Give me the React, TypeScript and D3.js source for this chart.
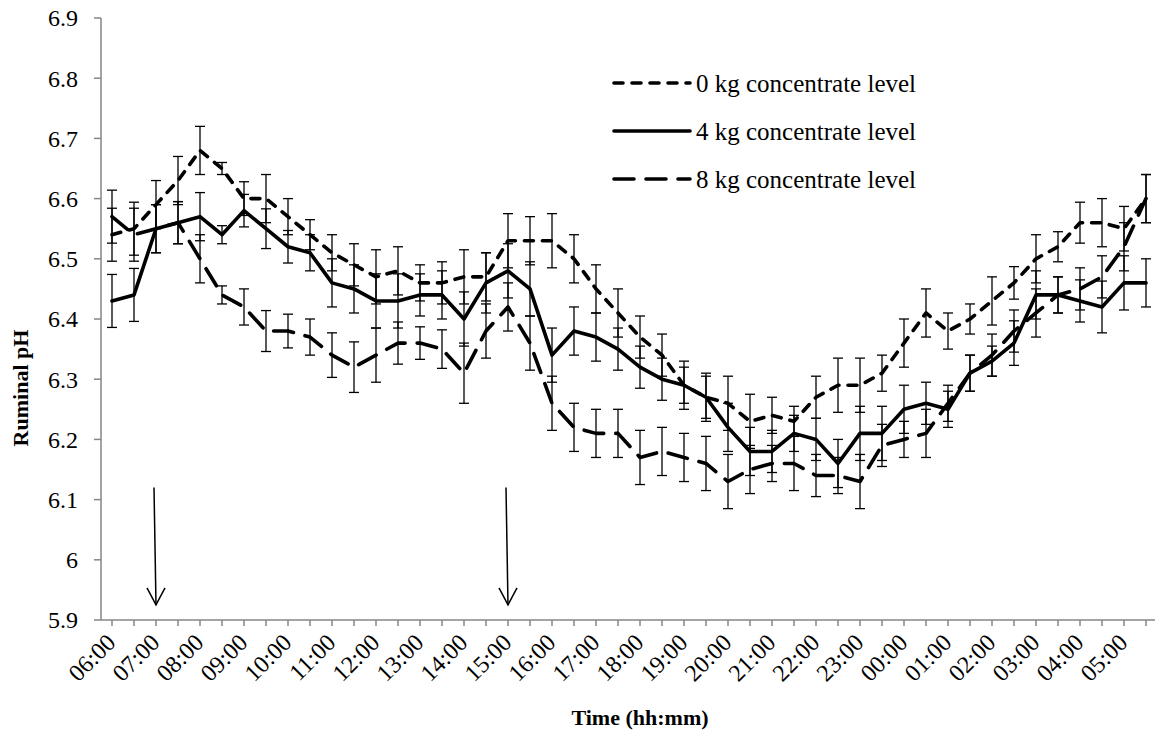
import React from "react";
import { scalePoint, scaleLinear, line, range } from "d3";

const width = 1155;
const height = 738;

// half-hourly sampling, labelled every hour
const times = [
  "06:00", "06:30", "07:00", "07:30", "08:00", "08:30", "09:00", "09:30",
  "10:00", "10:30", "11:00", "11:30", "12:00", "12:30", "13:00", "13:30",
  "14:00", "14:30", "15:00", "15:30", "16:00", "16:30", "17:00", "17:30",
  "18:00", "18:30", "19:00", "19:30", "20:00", "20:30", "21:00", "21:30",
  "22:00", "22:30", "23:00", "23:30", "00:00", "00:30", "01:00", "01:30",
  "02:00", "02:30", "03:00", "03:30", "04:00", "04:30", "05:00", "05:30",
];

const conc0 = [
  6.54, 6.55, 6.59, 6.63, 6.68, 6.65, 6.60, 6.60, 6.57, 6.54, 6.51, 6.49,
  6.47, 6.48, 6.46, 6.46, 6.47, 6.47, 6.53, 6.53, 6.53, 6.50, 6.45, 6.41,
  6.37, 6.34, 6.29, 6.27, 6.26, 6.23, 6.24, 6.23, 6.27, 6.29, 6.29, 6.31,
  6.36, 6.41, 6.38, 6.40, 6.43, 6.46, 6.50, 6.52, 6.56, 6.56, 6.55, 6.60,
];
const se0 = [
  0.044, 0.044, 0.04, 0.04, 0.04, 0.01, 0.028, 0.04, 0.03, 0.025, 0.03, 0.035,
  0.045, 0.04, 0.03, 0.035, 0.045, 0.04, 0.045, 0.04, 0.045, 0.04, 0.04, 0.04,
  0.035, 0.035, 0.04, 0.04, 0.045, 0.045, 0.03, 0.025, 0.035, 0.045, 0.045, 0.03,
  0.04, 0.04, 0.03, 0.025, 0.04, 0.027, 0.04, 0.025, 0.034, 0.04, 0.037, 0.04,
];

const conc4 = [
  6.43, 6.44, 6.55, 6.56, 6.57, 6.54, 6.58, 6.55, 6.52, 6.51, 6.46, 6.45,
  6.43, 6.43, 6.44, 6.44, 6.40, 6.46, 6.48, 6.45, 6.34, 6.38, 6.37, 6.35,
  6.32, 6.30, 6.29, 6.27, 6.22, 6.18, 6.18, 6.21, 6.20, 6.16, 6.21, 6.21,
  6.25, 6.26, 6.25, 6.31, 6.33, 6.36, 6.44, 6.44, 6.43, 6.42, 6.46, 6.46,
];
const se4 = [
  0.044, 0.044, 0.04, 0.035, 0.04, 0.015, 0.027, 0.033, 0.027, 0.03, 0.04, 0.04,
  0.045, 0.045, 0.035, 0.04, 0.045, 0.05, 0.045, 0.045, 0.045, 0.04, 0.04, 0.035,
  0.035, 0.035, 0.03, 0.035, 0.04, 0.04, 0.035, 0.03, 0.035, 0.04, 0.045, 0.045,
  0.04, 0.035, 0.03, 0.03, 0.025, 0.037, 0.04, 0.03, 0.035, 0.043, 0.045, 0.04,
];

const conc8 = [
  6.57, 6.54, 6.55, 6.56, 6.50, 6.44, 6.42, 6.38, 6.38, 6.37, 6.34, 6.32,
  6.34, 6.36, 6.36, 6.35, 6.31, 6.38, 6.42, 6.36, 6.26, 6.22, 6.21, 6.21,
  6.17, 6.18, 6.17, 6.16, 6.13, 6.15, 6.16, 6.16, 6.14, 6.14, 6.13, 6.19,
  6.20, 6.21, 6.26, 6.31, 6.34, 6.38, 6.41, 6.44, 6.45, 6.47, 6.52, 6.60,
];
const se8 = [
  0.044, 0.044, 0.04, 0.035, 0.04, 0.015, 0.03, 0.034, 0.028, 0.03, 0.037, 0.042,
  0.045, 0.035, 0.027, 0.032, 0.05, 0.045, 0.04, 0.045, 0.045, 0.04, 0.04, 0.04,
  0.045, 0.04, 0.04, 0.045, 0.045, 0.04, 0.03, 0.045, 0.035, 0.03, 0.045, 0.035,
  0.03, 0.04, 0.03, 0.03, 0.035, 0.035, 0.04, 0.03, 0.035, 0.035, 0.04, 0.04,
];

const seriesNames = [
  "0 kg concentrate level",
  "4 kg concentrate level",
  "8 kg concentrate level",
];

// feeding times marked with arrows
const feedings = ["07:00", "15:00"];

const series = [
  { name: seriesNames[0], values: conc0, se: se0, dash: "9,9" },
  { name: seriesNames[1], values: conc4, se: se4, dash: null },
  { name: seriesNames[2], values: conc8, se: se8, dash: "20,12" },
];

const axisColor = "#868686";
const font = '"Liberation Serif", "Times New Roman", Times, serif';

export default function App() {
  const margin = { top: 18, right: -2, bottom: 118, left: 101 };
  const plotBottom = height - margin.bottom;

  const xScale = scalePoint<string>()
    .domain(times)
    .range([margin.left, width - margin.right])
    .padding(0.5);

  const yScale = scaleLinear().domain([5.9, 6.9]).range([plotBottom, margin.top]);

  const yTicks = range(59, 70).map((d) => d / 10);

  const path = line<number>()
    .x((d, i) => xScale(times[i]) as number)
    .y((d) => yScale(d));

  const capW = 5;

  return (
    <svg
      width={width}
      height={height}
      style={{ position: "absolute", left: 0, top: 0, background: "#fff", fontFamily: font }}
    >
      {/* y axis */}
      <line
        x1={margin.left}
        x2={margin.left}
        y1={margin.top}
        y2={plotBottom}
        stroke={axisColor}
        strokeWidth={1.5}
      />
      {yTicks.map((t) => (
        <g key={t} transform={`translate(0,${yScale(t)})`}>
          <line x1={margin.left - 7} x2={margin.left} stroke={axisColor} strokeWidth={1.5} />
          <text x={margin.left - 23} dy=".35em" textAnchor="end" fontSize={24} style={{ fontFamily: font }}>
            {String(+t.toFixed(1))}
          </text>
        </g>
      ))}

      {/* x axis */}
      <line
        x1={margin.left}
        x2={width}
        y1={plotBottom}
        y2={plotBottom}
        stroke={axisColor}
        strokeWidth={1.5}
      />
      {times.map((t, i) => (
        <g key={t} transform={`translate(${xScale(t)},${plotBottom})`}>
          <line y2={6} stroke={axisColor} strokeWidth={1.5} />
          {i % 2 === 0 && (
            <text
              transform="translate(5,24) rotate(-45)"
              textAnchor="end"
              fontSize={24}
              style={{ fontFamily: font }}
            >
              {t}
            </text>
          )}
        </g>
      ))}

      {/* error bars */}
      {series.map((s) => (
        <g key={s.name + "-err"} stroke="#000" strokeWidth={1.3}>
          {s.values.map((v, i) => {
            const x = xScale(times[i]) as number;
            const y0 = yScale(v - s.se[i]);
            const y1 = yScale(v + s.se[i]);
            return (
              <g key={i}>
                <line x1={x} x2={x} y1={y0} y2={y1} />
                <line x1={x - capW} x2={x + capW} y1={y0} y2={y0} />
                <line x1={x - capW} x2={x + capW} y1={y1} y2={y1} />
              </g>
            );
          })}
        </g>
      ))}

      {/* series lines */}
      {series.map((s) => (
        <path
          key={s.name}
          d={path(s.values) || ""}
          fill="none"
          stroke="#000"
          strokeWidth={3.6}
          strokeLinecap="round"
          strokeLinejoin="round"
          strokeDasharray={s.dash || undefined}
        />
      ))}

      {/* feeding arrows */}
      {feedings.map((f) => {
        const x = xScale(f) as number;
        const yTop = yScale(6.12);
        const yTip = yScale(5.925);
        return (
          <g key={f} stroke="#000" strokeWidth={1.5} fill="none">
            <line x1={x - 2} x2={x} y1={yTop} y2={yTip} />
            <polyline points={`${x - 9},${yTip - 17} ${x},${yTip} ${x + 9},${yTip - 17}`} />
          </g>
        );
      })}

      {/* legend */}
      {series.map((s, i) => (
        <g key={s.name + "-leg"} transform={`translate(614,${83 + i * 48})`}>
          <line
            x1={0}
            x2={76}
            stroke="#000"
            strokeWidth={3.6}
            strokeLinecap="round"
            strokeDasharray={s.dash || undefined}
          />
          <text x={82} dy=".35em" fontSize={25} style={{ fontFamily: font }}>
            {s.name}
          </text>
        </g>
      ))}

      {/* axis titles */}
      <text
        transform={`translate(28,388) rotate(-90)`}
        textAnchor="middle"
        fontSize={22}
        fontWeight="bold"
        style={{ fontFamily: font }}
      >
        Ruminal pH
      </text>
      <text
        x={640}
        y={725}
        textAnchor="middle"
        fontSize={22}
        fontWeight="bold"
        style={{ fontFamily: font }}
      >
        Time (hh:mm)
      </text>
    </svg>
  );
}
